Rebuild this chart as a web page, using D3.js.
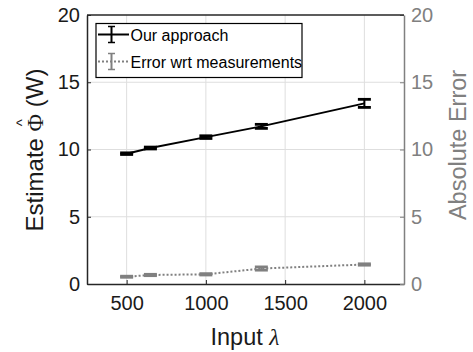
<!DOCTYPE html>
<html>
<head>
<meta charset="utf-8">
<title>Estimate vs input</title>
<style>
  body { margin: 0; background: #fff; }
  svg { font-family: "Liberation Sans", Arial, sans-serif; }
</style>
<script src="https://cdn.jsdelivr.net/npm/d3@7"></script>
</head>
<body>
<svg width="473" height="352"></svg>
<script>
// data
const inputs = [500, 650, 1000, 1350, 2000];
const estimate = [9.69, 10.11, 10.92, 11.72, 13.43];
const estimateErr = [0.06, 0.07, 0.1, 0.15, 0.3];
const absError = [0.54, 0.67, 0.72, 1.15, 1.45];
const absErrorErr = [0.04, 0.05, 0.05, 0.12, 0.05];
const xTicks = [500, 1000, 1500, 2000];
const yTicks = [0, 5, 10, 15, 20];

const svg = d3.select("svg");
const pLeft = 87, pRight = 404, pTop = 15, pBottom = 284;
const grey = "#808080";
const ink = "#262626";

const x = d3.scaleLinear().domain([250, 2250]).range([pLeft, pRight]);
const y = d3.scaleLinear().domain([0, 20]).range([pBottom, pTop]);
const y2 = d3.scaleLinear().domain([0, 20]).range([pBottom, pTop]);

// grid
svg.append("g").selectAll("line").data(xTicks).join("line")
  .attr("x1", d => x(d)).attr("x2", d => x(d)).attr("y1", pTop).attr("y2", pBottom)
  .attr("stroke", "#dedede").attr("stroke-width", 1);
svg.append("g").selectAll("line").data(yTicks.slice(1, -1)).join("line")
  .attr("x1", pLeft).attr("x2", pRight).attr("y1", d => y(d)).attr("y2", d => y(d))
  .attr("stroke", "#dedede").attr("stroke-width", 1);

// axes
const fmt = d3.format("d");
const xAxis = svg.append("g").attr("transform", `translate(0,${pBottom})`)
  .call(d3.axisBottom(x).tickValues(xTicks).tickFormat(fmt).tickSizeInner(-4).tickSizeOuter(0).tickPadding(12));
const yAxis = svg.append("g").attr("transform", `translate(${pLeft},0)`)
  .call(d3.axisLeft(y).tickValues(yTicks).tickFormat(fmt).tickSizeInner(-4).tickSizeOuter(0).tickPadding(7));
const yAxis2 = svg.append("g").attr("transform", `translate(${pRight},0)`)
  .call(d3.axisRight(y2).tickValues(yTicks).tickFormat(fmt).tickSizeInner(-4).tickSizeOuter(0).tickPadding(7));

[xAxis, yAxis, yAxis2].forEach(g => {
  g.attr("font-family", null).attr("font-size", null);
  g.selectAll("text").attr("font-size", 20).attr("fill", "#1a1a1a");
  g.selectAll(".tick line").attr("stroke", ink);
  g.select(".domain").attr("stroke", ink).attr("stroke-width", 1.5);
});
yAxis2.selectAll("text").attr("fill", grey);
yAxis2.selectAll(".tick line").attr("stroke", grey);
yAxis2.select(".domain").attr("stroke", grey);

// top border
svg.append("line").attr("x1", pLeft).attr("x2", pRight).attr("y1", pTop).attr("y2", pTop)
  .attr("stroke", ink).attr("stroke-width", 1.5);

// axis titles
svg.append("text").attr("x", 245).attr("y", 345).attr("text-anchor", "middle")
  .attr("font-size", 23.5).attr("fill", "#1a1a1a")
  .html('Input <tspan font-family="Liberation Serif" font-style="italic">λ</tspan>');

const yTitle = svg.append("g").attr("transform", "translate(43,150) rotate(-90)");
const yText = yTitle.append("text").attr("text-anchor", "middle")
  .attr("font-size", 24).attr("fill", "#1a1a1a");
yText.append("tspan").text("Estimate ");
yText.append("tspan").attr("font-family", "Liberation Serif").text("Φ");
yText.append("tspan").text(" (W)");
{
  const n = yText.node();
  const total = n.getComputedTextLength();
  const before = n.getSubStringLength(0, 9);
  const phiW = n.getSubStringLength(9, 1);
  yTitle.append("text").attr("x", -total / 2 + before + phiW / 2).attr("y", -16)
    .attr("text-anchor", "middle").attr("font-size", 15).attr("fill", "#1a1a1a").text("^");
}

svg.append("text").attr("transform", "translate(466,145) rotate(-90)").attr("text-anchor", "middle")
  .attr("font-size", 23.5).attr("fill", grey).text("Absolute Error");

// series
function drawSeries(vals, errs, color, dash, scale, capW) {
  const pts = inputs.map((d, i) => ({ x: d, v: vals[i], e: errs[i] }));
  svg.append("path").datum(pts)
    .attr("fill", "none").attr("stroke", color).attr("stroke-width", 2)
    .attr("stroke-dasharray", dash)
    .attr("d", d3.line().x(d => x(d.x)).y(d => scale(d.v)));
  const g = svg.append("g").selectAll("g").data(pts).join("g");
  g.append("line").attr("x1", d => x(d.x)).attr("x2", d => x(d.x))
    .attr("y1", d => scale(d.v - d.e)).attr("y2", d => scale(d.v + d.e))
    .attr("stroke", color).attr("stroke-width", 2);
  [-1, 1].forEach(s => {
    g.append("line").attr("x1", d => x(d.x) - capW / 2).attr("x2", d => x(d.x) + capW / 2)
      .attr("y1", d => scale(d.v + s * d.e)).attr("y2", d => scale(d.v + s * d.e))
      .attr("stroke", color).attr("stroke-width", 2.8);
  });
}
drawSeries(estimate, estimateErr, "#000", null, y, 13);
drawSeries(absError, absErrorErr, grey, "2,2", y2, 13);

// legend
const lg = svg.append("g");
lg.append("rect").attr("x", 96).attr("y", 23.5).attr("width", 206).attr("height", 54)
  .attr("fill", "#fff").attr("stroke", "#000").attr("stroke-width", 1.2);
const items = [
  { name: "Our approach", color: "#000", dash: null },
  { name: "Error wrt measurements", color: grey, dash: "2,2" }
];
items.forEach((it, i) => {
  const cy = 34.5 + i * 27;
  lg.append("line").attr("x1", 98).attr("x2", 129).attr("y1", cy).attr("y2", cy)
    .attr("stroke", it.color).attr("stroke-width", 2).attr("stroke-dasharray", it.dash);
  lg.append("line").attr("x1", 111.5).attr("x2", 111.5).attr("y1", cy - 8).attr("y2", cy + 8)
    .attr("stroke", it.color).attr("stroke-width", 2);
  [-8, 8].forEach(o => lg.append("line").attr("x1", 108).attr("x2", 115)
    .attr("y1", cy + o).attr("y2", cy + o).attr("stroke", it.color).attr("stroke-width", 1.5));
  lg.append("text").attr("x", 130.5).attr("y", cy + 6).attr("font-size", 16)
    .attr("fill", "#000").text(it.name);
});
</script>
</body>
</html>
